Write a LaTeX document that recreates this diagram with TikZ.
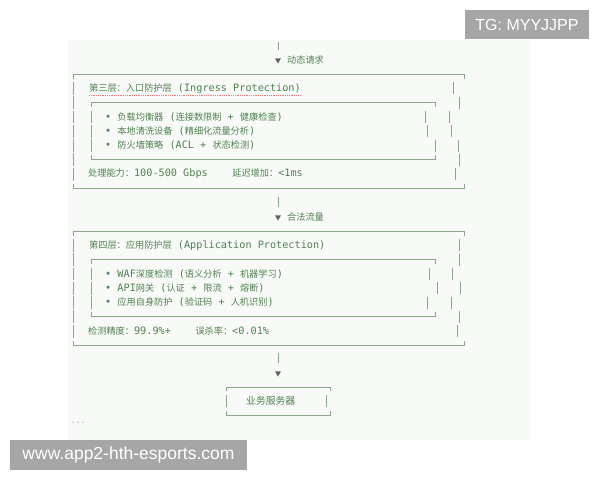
\documentclass[tikz,border=0pt]{standalone}
\usepackage{fontspec}
\usepackage{tikz}
\usetikzlibrary{shapes.geometric}
\setmonofont{DejaVu Sans Mono}
\newfontfamily\cjk[Scale=0.9]{Noto Sans CJK SC}
\newfontfamily\wmfont{Liberation Sans}
\newcommand\zh[1]{{\cjk #1}}
\definecolor{panel}{RGB}{247,250,247}
\definecolor{ink}{RGB}{80,130,80}
\definecolor{rule}{RGB}{140,166,140}
\definecolor{tipclr}{RGB}{80,105,80}
\definecolor{wmgray}{RGB}{166,166,166}

\begin{document}
\begin{tikzpicture}[x=1pt,y=-1pt,
    txt/.style={anchor=west,inner sep=0pt,text=ink,font=\ttfamily\fontsize{10.2}{12}\selectfont},
    wire/.style={draw=rule,line width=0.9pt},
    tip/.style={regular polygon,regular polygon sides=3,shape border rotate=180,fill=tipclr,inner sep=0pt,minimum size=7pt},
    wmark/.style={fill=wmgray,text=white,inner sep=0pt,font=\wmfont\fontsize{16}{18}\selectfont}]
    \useasboundingbox (0,0) rectangle (600,480);
    \fill[panel] (68,40) rectangle (530,440);

    \coordinate (src) at (278,42);
    \node[tip] (req) at (278,60) {};
    \node[txt] (reqlbl) at (287,60) {\zh{动态请求}};
    \draw[wire,shorten >=8pt] (src) -- (req);

    \draw[wire] (73,79) |- (464,74) -- (464,79);
    \draw[wire] (73,183.5) |- (464,188.4) -- (464,183.5);
    \foreach \k in {1,...,7}
        \draw[wire] (73,{74+14.3*\k-6.4}) -- (73,{74+14.3*\k+6.4});
    \foreach \k/\x in {1/453,2/459,3/449,4/451,5/458,6/459,7/455}
        \draw[wire] (\x,{74+14.3*\k-6}) -- (\x,{74+14.3*\k+6});
    \draw[wire] (91,107) |- (435,102.6) -- (435,107);
    \draw[wire] (91,155.4) |- (435,159.8) -- (435,155.4);
    \foreach \k in {3,4,5}
        \draw[wire] (91,{74+14.3*\k-6.4}) -- (91,{74+14.3*\k+6.4});
    \foreach \k/\x in {3/425,4/427,5/435}
        \draw[wire] (\x,{74+14.3*\k-6}) -- (\x,{74+14.3*\k+6});

    \node[txt] (l3title) at (89,88.3) {\zh{第三层：入口防护层} (Ingress Protection)};
    \draw[red!55,densely dotted,line width=0.8pt] ([yshift=-2pt]l3title.south west) -- ([yshift=-2pt]l3title.south east);
    \node[txt] (l3a) at (105,116.9) {• \zh{负载均衡器} (\zh{连接数限制} + \zh{健康检查})};
    \node[txt] (l3b) at (105,131.2) {• \zh{本地清洗设备} (\zh{精细化流量分析})};
    \node[txt] (l3c) at (105,145.5) {• \zh{防火墙策略} (ACL + \zh{状态检测})};
    \node[txt] (l3cap) at (88,174.1) {\zh{处理能力：}100-500 Gbps\ \ \ \ \zh{延迟增加：}<1ms};

    \coordinate (l3out) at (278,188.4);
    \node[tip] (legal) at (278,217) {};
    \node[txt] (legallbl) at (287,217) {\zh{合法流量}};
    \draw[wire,shorten <=9pt,shorten >=8pt] (l3out) -- (legal);

    \draw[wire] (73,236) |- (464,231) -- (464,236);
    \draw[wire] (73,340.5) |- (464,345.4) -- (464,340.5);
    \foreach \k in {1,...,7}
        \draw[wire] (73,{231+14.3*\k-6.4}) -- (73,{231+14.3*\k+6.4});
    \foreach \k/\x in {1/459,2/459,3/452,4/460,5/451,6/459,7/457}
        \draw[wire] (\x,{231+14.3*\k-6}) -- (\x,{231+14.3*\k+6});
    \draw[wire] (91,264) |- (435,259.6) -- (435,264);
    \draw[wire] (91,312.4) |- (435,316.8) -- (435,312.4);
    \foreach \k in {3,4,5}
        \draw[wire] (91,{231+14.3*\k-6.4}) -- (91,{231+14.3*\k+6.4});
    \foreach \k/\x in {3/429,4/437,5/427}
        \draw[wire] (\x,{231+14.3*\k-6}) -- (\x,{231+14.3*\k+6});

    \node[txt] (l4title) at (89,245.3) {\zh{第四层：应用防护层} (Application Protection)};
    \node[txt] (l4a) at (105,273.9) {• WAF\zh{深度检测} (\zh{语义分析} + \zh{机器学习})};
    \node[txt] (l4b) at (105,288.2) {• API\zh{网关} (\zh{认证} + \zh{限流} + \zh{熔断})};
    \node[txt] (l4c) at (105,302.5) {• \zh{应用自身防护} (\zh{验证码} + \zh{人机识别})};
    \node[txt] (l4cap) at (88,331.1) {\zh{检测精度：}99.9\%+\ \ \ \ \zh{误杀率：}<0.01\%};

    \coordinate (l4out) at (278,345.4);
    \node[tip] (fwd) at (278,373) {};
    \draw[wire,shorten <=8pt,shorten >=8pt] (l4out) -- (fwd);

    \draw[wire] (226,391) |- (330,387) -- (330,391);
    \draw[wire] (226,411) |- (330,415) -- (330,411);
    \draw[wire] (226,395) -- (226,407);
    \draw[wire] (326,395) -- (326,407);
    \node[txt,font=\ttfamily\fontsize{10.9}{12}\selectfont] (srv) at (246,401) {\zh{业务服务器}};

    \node[txt,text=black!45,font=\ttfamily\fontsize{8}{9}\selectfont] (fence) at (71,425) {\textasciigrave\textasciigrave\textasciigrave};

    \node[wmark,minimum width=124pt,minimum height=29pt] (tg) at (527,24.5) {TG: MYYJJPP};
    \node[wmark,minimum width=237pt,minimum height=30pt,font=\wmfont\fontsize{17.5}{19}\selectfont] (site) at (128.5,455) {www.app2-hth-esports.com};
\end{tikzpicture}
\end{document}
